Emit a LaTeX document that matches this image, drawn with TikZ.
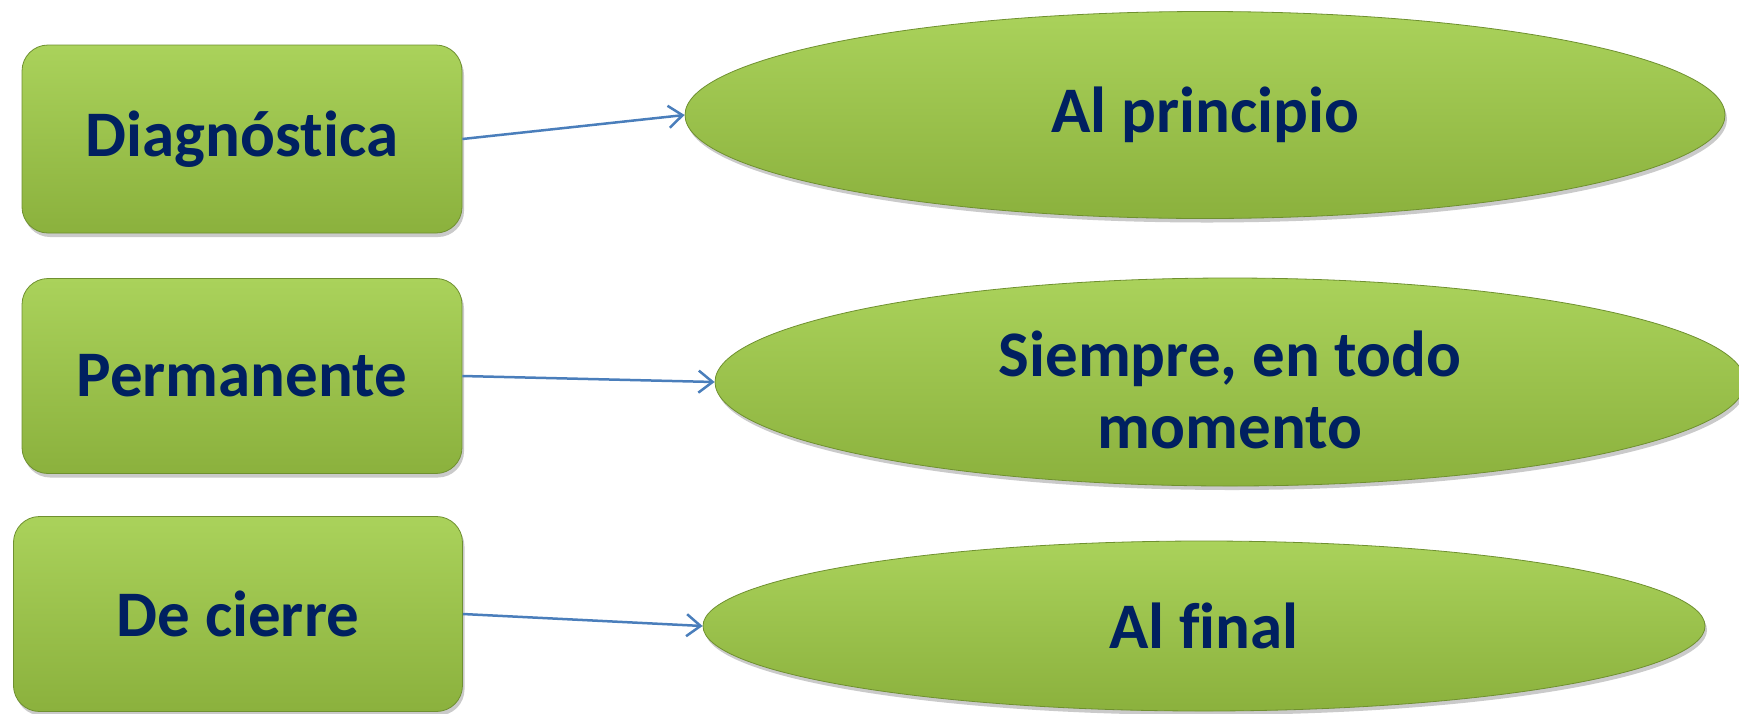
\documentclass[tikz,border=0pt]{standalone}
\usepackage{fontspec}
\setmainfont{Carlito}[Ligatures={NoCommon,NoContextual}]
\usepackage{xcolor}
\usetikzlibrary{shapes.geometric,arrows.meta,shadows}

\definecolor{leaftop}{HTML}{AAD25B}
\definecolor{leafbot}{HTML}{8BB13D}
\definecolor{leafedge}{HTML}{6F9030}
\definecolor{inkblue}{HTML}{002060}
\definecolor{linkblue}{HTML}{4A7EBB}

\tikzset{
    kindbox/.style={rectangle, rounded corners=26pt, draw=leafedge, line width=0.8pt,
        top color=leaftop, bottom color=leafbot,
        drop shadow={shadow xshift=2pt, shadow yshift=-4pt, opacity=0.35, fill=black!60},
        inner sep=0pt, font=\fontsize{65}{72}\selectfont\bfseries, text=inkblue},
    whenoval/.style={ellipse, draw=leafedge, line width=0.8pt,
        top color=leaftop, bottom color=leafbot,
        drop shadow={shadow xshift=2pt, shadow yshift=-4pt, opacity=0.35, fill=black!60},
        inner sep=0pt, align=center, font=\fontsize{65}{72}\selectfont\bfseries, text=inkblue},
    link/.style={-{Straight Barb[length=14pt, width=22pt, line width=2.5pt]}, draw=linkblue, line width=2.5pt}
}

\begin{document}
\begin{tikzpicture}[x=1pt, y=-1pt]
        % Fix the page size
        \useasboundingbox (0,0) rectangle (1739,713);

        % The kinds of assessment
        \node[kindbox, minimum width=440pt, minimum height=188pt] (diag) at (242,139) {Diagnóstica};
        \node[kindbox, minimum width=440pt, minimum height=195pt] (perm) at (242,376) {Permanente};
        \node[kindbox, minimum width=449pt, minimum height=195pt] (cier) at (238,614) {De cierre};

        % When each one happens
        \node[whenoval, minimum width=1040pt, minimum height=207pt] (inicio) at (1205,115) {Al principio};
        \node[whenoval, minimum width=1030pt, minimum height=208pt] (siempre) at (1230,382) {\rule{0pt}{61pt}Siempre, en todo\\momento};
        \node[whenoval, minimum width=1002pt, minimum height=170pt] (final) at (1204,626) {Al final};

        % Connect them
        \draw[link] (diag.east) -- (inicio.west);
        \draw[link] (perm.east) -- (siempre.west);
        \draw[link] (cier.east) -- (final.west);
    \end{tikzpicture}
\end{document}
